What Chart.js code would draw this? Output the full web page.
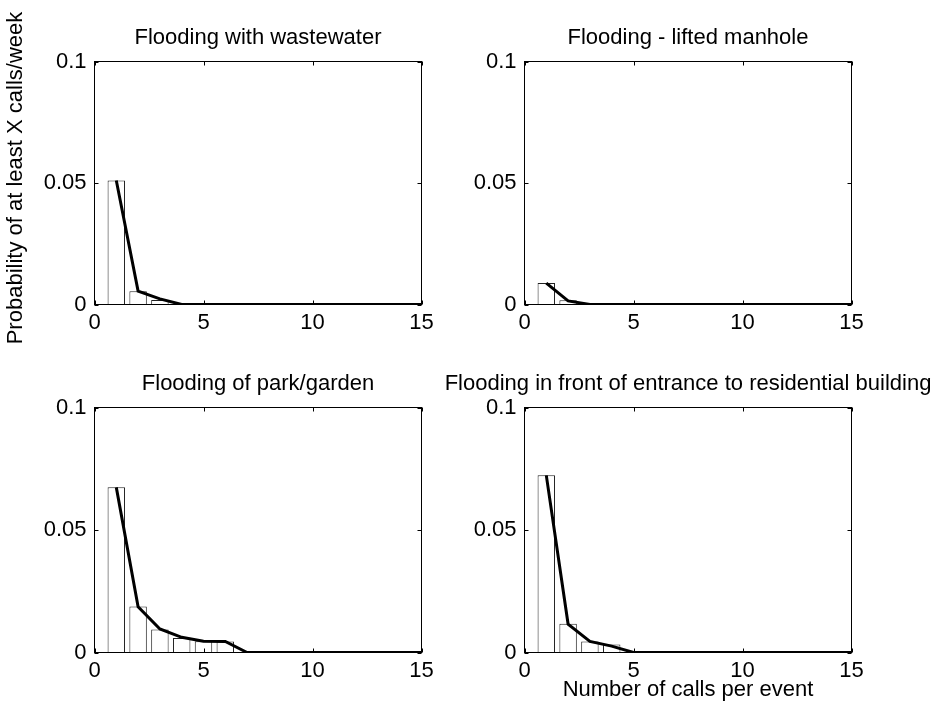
<!DOCTYPE html>
<html>
<head>
<meta charset="utf-8">
<script src="https://cdn.jsdelivr.net/npm/chart.js@4.4.1/dist/chart.umd.min.js"></script>
<style>
  html, body { margin: 0; padding: 0; background: #fff; }
  #figure { position: relative; width: 941px; height: 715px; }
  #figure canvas { position: absolute; left: 0; top: 0; }
</style>
</head>
<body>
<div id="figure">
  <canvas id="c1" width="941" height="715"></canvas>
  <canvas id="c2" width="941" height="715"></canvas>
  <canvas id="c3" width="941" height="715"></canvas>
  <canvas id="c4" width="941" height="715"></canvas>
</div>
<script>
// ---- data ----
const callsPerEvent = [1, 2, 3, 4, 5, 6, 7, 8, 9, 10, 11, 12, 13, 14, 15];
const xTicks = [0, 5, 10, 15];
const xTickLabels = ['0', '5', '10', '15'];
const yTicks = [0, 0.05, 0.1];
const yTickLabels = ['0', '0.05', '0.1'];

const yAxisLabel = 'Probability of at least X calls/week';
const xAxisLabel = 'Number of calls per event';

const titles = [
  'Flooding with wastewater',
  'Flooding - lifted manhole',
  'Flooding of park/garden',
  'Flooding in front of entrance to residential building'
];

// bars (one per number of calls, starting at 1)
const barsWastewater = [0.051, 0.0055, 0.0019];
const barsManhole    = [0.0088, 0.0017];
const barsPark       = [0.0674, 0.0188, 0.0094, 0.0059, 0.0046, 0.0045];
const barsEntrance   = [0.0723, 0.0117, 0.0045, 0.0033];

// thick line, one value per number of calls 1..15
const lineWastewater = [0.051, 0.0055, 0.0023, 0, 0, 0, 0, 0, 0, 0, 0, 0, 0, 0, 0];
const lineManhole    = [0.0088, 0.0015, 0, 0, 0, 0, 0, 0, 0, 0, 0, 0, 0, 0, 0];
const linePark       = [0.0674, 0.0187, 0.0096, 0.0062, 0.0046, 0.0045, 0, 0, 0, 0, 0, 0, 0, 0, 0];
const lineEntrance   = [0.0723, 0.0116, 0.0045, 0.0026, 0, 0, 0, 0, 0, 0, 0, 0, 0, 0, 0];

// ---- layout (plot boxes in page pixels) ----
const PAGE_W = 941, PAGE_H = 715;
const Y_AXIS_W = 60, TICK_LEN = 4;
const FONT_FAMILY = '"Liberation Sans", Arial, Helvetica, sans-serif';
const FONT_SIZE = 22;

const boxes = [
  { left: 94.5,  right: 421.5, top: 61.5,  bottom: 304.5 },
  { left: 524.5, right: 851.5, top: 61.5,  bottom: 304.5 },
  { left: 94.5,  right: 421.5, top: 407.5, bottom: 652.5 },
  { left: 524.5, right: 851.5, top: 407.5, bottom: 652.5 }
];

Chart.defaults.font.family = FONT_FAMILY;
Chart.defaults.font.size = FONT_SIZE;
Chart.defaults.color = '#000';

// box around the axes, inward ticks on all four sides, title and y label
const matlabAxes = {
  id: 'matlabAxes',
  afterDraw(chart, args, opts) {
    const { ctx, chartArea: a, scales } = chart;
    ctx.save();
    ctx.strokeStyle = '#000';
    ctx.lineWidth = 1;
    ctx.strokeRect(a.left, a.top, a.right - a.left, a.bottom - a.top);

    ctx.beginPath();
    scales.x.ticks.forEach(t => {
      const px = Math.round(scales.x.getPixelForValue(t.value)) + 0.5;
      ctx.moveTo(px, a.bottom); ctx.lineTo(px, a.bottom - TICK_LEN);
      ctx.moveTo(px, a.top);    ctx.lineTo(px, a.top + TICK_LEN);
    });
    scales.y.ticks.forEach(t => {
      const py = Math.round(scales.y.getPixelForValue(t.value)) + 0.5;
      ctx.moveTo(a.left, py);  ctx.lineTo(a.left + TICK_LEN, py);
      ctx.moveTo(a.right, py); ctx.lineTo(a.right - TICK_LEN, py);
    });
    ctx.stroke();

    ctx.fillStyle = '#000';
    ctx.font = FONT_SIZE + 'px ' + FONT_FAMILY;
    ctx.textAlign = 'center';
    ctx.textBaseline = 'alphabetic';
    ctx.fillText(opts.title, (a.left + a.right) / 2, a.top - 17.5);

    if (opts.yLabel) {
      ctx.translate(22, 178);
      ctx.rotate(-Math.PI / 2);
      ctx.fillText(opts.yLabel, 0, 0);
    }
    ctx.restore();
  }
};

function makeSubplot(canvasId, box, title, bars, line, withYLabel, withXLabel) {
  const canvas = document.getElementById(canvasId);
  // the x scale runs down to the page edge when it also carries the x label
  const xAxisH = withXLabel ? PAGE_H - box.bottom : 40;
  return new Chart(canvas, {
    type: 'bar',
    data: {
      datasets: [
        {
          type: 'line',
          data: callsPerEvent.map((x, i) => ({ x, y: line[i] })),
          borderColor: '#000',
          borderWidth: 3,
          pointRadius: 0,
          tension: 0,
          order: 1
        },
        {
          type: 'bar',
          data: bars.map((y, i) => ({ x: callsPerEvent[i], y })),
          backgroundColor: '#fff',
          borderColor: '#222',
          borderWidth: 1,
          barPercentage: 0.8,
          categoryPercentage: 1,
          order: 2
        }
      ]
    },
    options: {
      responsive: false,
      animation: false,
      devicePixelRatio: 1,
      layout: {
        padding: {
          left: box.left - Y_AXIS_W,
          top: box.top,
          right: PAGE_W - box.right,
          bottom: PAGE_H - box.bottom - xAxisH
        }
      },
      plugins: {
        legend: { display: false },
        tooltip: { enabled: false },
        matlabAxes: { title, yLabel: withYLabel ? yAxisLabel : null }
      },
      scales: {
        x: {
          type: 'linear',
          min: 0,
          max: 15,
          offset: false,
          grid: { display: false, drawTicks: false },
          border: { display: false },
          afterBuildTicks: s => { s.ticks = xTicks.map(v => ({ value: v })); },
          afterFit: s => { s.height = xAxisH; },
          ticks: {
            padding: 5,
            maxRotation: 0,
            autoSkip: false,
            callback: (v, i) => xTickLabels[i]
          },
          title: {
            display: withXLabel,
            text: xAxisLabel,
            padding: { top: 0, bottom: 12 }
          }
        },
        y: {
          type: 'linear',
          min: 0,
          max: 0.1,
          grid: { display: false, drawTicks: false },
          border: { display: false },
          afterBuildTicks: s => { s.ticks = yTicks.map(v => ({ value: v })); },
          afterFit: s => { s.width = Y_AXIS_W; },
          ticks: {
            padding: 8,
            autoSkip: false,
            callback: (v, i) => yTickLabels[i]
          }
        }
      }
    },
    plugins: [matlabAxes]
  });
}

makeSubplot('c1', boxes[0], titles[0], barsWastewater, lineWastewater, true, false);
makeSubplot('c2', boxes[1], titles[1], barsManhole, lineManhole, false, false);
makeSubplot('c3', boxes[2], titles[2], barsPark, linePark, false, false);
makeSubplot('c4', boxes[3], titles[3], barsEntrance, lineEntrance, false, true);
</script>
</body>
</html>
